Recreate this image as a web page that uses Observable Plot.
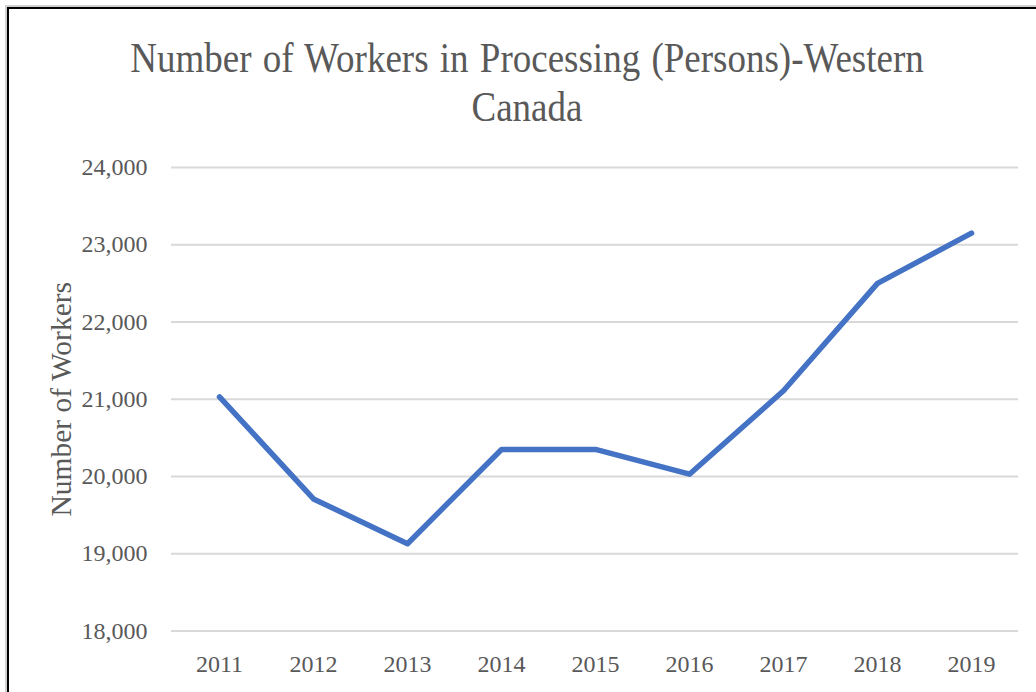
<!DOCTYPE html>
<html>
<head>
<meta charset="utf-8">
<script src="https://cdn.jsdelivr.net/npm/d3@7"></script>
<script src="https://cdn.jsdelivr.net/npm/@observablehq/plot@0.6"></script>
<style>
  html, body { margin: 0; padding: 0; background: #fff; }
  #wrap { position: relative; width: 1036px; height: 692px; overflow: hidden; background: #fff; }
  #frame { position: absolute; left: 7px; top: 7px; width: 1200px; height: 900px;
           border: 2px solid #000; box-shadow: 0 0 0 2px #d0d0d0; box-sizing: border-box; }
  #title { position: absolute; left: 0; top: 34px; width: 1054px; text-align: center;
           font-family: "Liberation Serif", "Times New Roman", serif; font-size: 37px;
           word-spacing: 2px; line-height: 43.75px; color: #595959; white-space: nowrap;
           transform: scale(1, 1.12); transform-origin: top center; }
  #chart { position: absolute; left: 0; top: 0; }
</style>
</head>
<body>
<div id="wrap">
  <div id="frame"></div>
  <div id="title">Number of Workers in Processing (Persons)-Western<br>Canada</div>
  <div id="chart"></div>
</div>
<script>
const years = ["2011", "2012", "2013", "2014", "2015", "2016", "2017", "2018", "2019"];
const workers = [21030, 19710, 19130, 20350, 20350, 20030, 21110, 22500, 23150];
const yTicks = [18000, 19000, 20000, 21000, 22000, 23000, 24000];
const yLabel = "Number of Workers";

const data = years.map((y, i) => ({year: y, value: workers[i]}));

const chart = Plot.plot({
  width: 1036,
  height: 692,
  marginLeft: 171,
  marginRight: 18,
  marginTop: 167,
  marginBottom: 61.5,
  style: {fontFamily: "'Liberation Serif', 'Times New Roman', serif", fontSize: "24px", color: "#595959", background: "transparent"},
  x: {type: "point", domain: years, padding: 0.5},
  y: {domain: [18000, 24000]},
  marks: [
    Plot.gridY(yTicks, {stroke: "#d9d9d9", strokeOpacity: 1, strokeWidth: 2}),
    Plot.axisY(yTicks, {tickSize: 0, tickPadding: 24, tickFormat: d3.format(","), label: null}),
    Plot.axisX(years, {tickSize: 0, tickPadding: 24, label: null}),
    Plot.text([yLabel], {frameAnchor: "left", dx: -110, rotate: -90, text: d => d,
      fontSize: 29.5, fill: "#595959", textAnchor: "middle", lineAnchor: "middle"}),
    Plot.line(data, {x: "year", y: "value", stroke: "#4472C4", strokeWidth: 5.5,
      strokeLinejoin: "round", strokeLinecap: "round"})
  ]
});
document.getElementById("chart").appendChild(chart);
</script>
</body>
</html>
